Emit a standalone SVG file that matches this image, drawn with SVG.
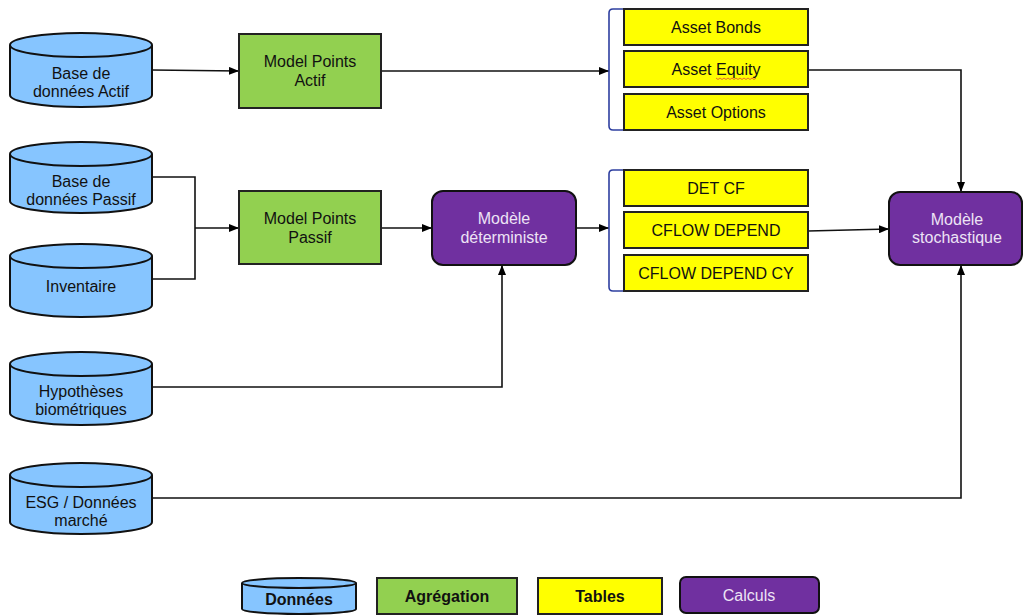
<svg xmlns="http://www.w3.org/2000/svg" width="1023" height="616" viewBox="0 0 1023 616">
<defs>
<marker id="ah" markerWidth="10" markerHeight="8" refX="10" refY="4" orient="auto" markerUnits="userSpaceOnUse">
<path d="M0,0 L10,4 L0,8 Z" fill="#000"/>
</marker>
<style>
.db{fill:#86C5FF;stroke:#111;stroke-width:2}
.agg{fill:#92D050;stroke:#222;stroke-width:2}
.tab{fill:#FFFF00;stroke:#222;stroke-width:2}
.calc{fill:#7030A0;stroke:#111;stroke-width:2}
.t{font-family:"Liberation Sans",Arial,sans-serif;font-size:16px;fill:#111;text-anchor:middle}
.tw{font-family:"Liberation Sans",Arial,sans-serif;font-size:16px;fill:#EDE3F5;text-anchor:middle}
.tb{font-family:"Liberation Sans",Arial,sans-serif;font-size:16px;font-weight:bold;fill:#111;text-anchor:middle}
.c{fill:none;stroke:#111;stroke-width:1.6}
.br{fill:none;stroke:#2E3FA0;stroke-width:1.6}
</style>
</defs>
<rect width="1023" height="616" fill="#fff"/>

<g id="connectors">
<line class="c" x1="152" y1="70" x2="239" y2="71" marker-end="url(#ah)"/>
<line class="c" x1="381" y1="71" x2="609" y2="71" marker-end="url(#ah)"/>
<polyline class="c" points="152,177 195,177 195,279 152,279"/>
<line class="c" x1="195" y1="228" x2="239" y2="228" marker-end="url(#ah)"/>
<line class="c" x1="381" y1="228" x2="432" y2="228" marker-end="url(#ah)"/>
<line class="c" x1="576" y1="228" x2="609" y2="228" marker-end="url(#ah)"/>
<polyline class="c" points="152,387 502,387 502,265" marker-end="url(#ah)"/>
<polyline class="c" points="808,70 961,70 961,192" marker-end="url(#ah)"/>
<line class="c" x1="808" y1="231" x2="889" y2="229" marker-end="url(#ah)"/>
<polyline class="c" points="152,498 961,498 961,265" marker-end="url(#ah)"/>
<path class="br" d="M624,9 L613,9 Q609,9 609,13 L609,126 Q609,130 613,130 L624,130"/>
<path class="br" d="M624,170 L613,170 Q609,170 609,174 L609,287 Q609,291 613,291 L624,291"/>
</g>

<g id="db-actif">
<path class="db" d="M10,45 A71,12 0 0,1 152,45 L152,95 A71,12 0 0,1 10,95 Z"/>
<path class="db" d="M10,45 A71,12 0 0,0 152,45"/>
<text class="t" x="81" y="79">Base de</text>
<text class="t" x="81" y="97">données Actif</text>
</g>
<g id="db-passif">
<path class="db" d="M10,154 A71,12 0 0,1 152,154 L152,201 A71,12 0 0,1 10,201 Z"/>
<path class="db" d="M10,154 A71,12 0 0,0 152,154"/>
<text class="t" x="81" y="187">Base de</text>
<text class="t" x="81" y="205">données Passif</text>
</g>
<g id="db-inventaire">
<path class="db" d="M10,256 A71,12 0 0,1 152,256 L152,305 A71,12 0 0,1 10,305 Z"/>
<path class="db" d="M10,256 A71,12 0 0,0 152,256"/>
<text class="t" x="81" y="292">Inventaire</text>
</g>
<g id="db-hypotheses">
<path class="db" d="M10,364 A71,12 0 0,1 152,364 L152,413 A71,12 0 0,1 10,413 Z"/>
<path class="db" d="M10,364 A71,12 0 0,0 152,364"/>
<text class="t" x="81" y="397">Hypothèses</text>
<text class="t" x="81" y="415">biométriques</text>
</g>
<g id="db-esg">
<path class="db" d="M10,475 A71,12 0 0,1 152,475 L152,522 A71,12 0 0,1 10,522 Z"/>
<path class="db" d="M10,475 A71,12 0 0,0 152,475"/>
<text class="t" x="81" y="508">ESG / Données</text>
<text class="t" x="81" y="526">marché</text>
</g>

<g id="mp-actif">
<rect class="agg" x="239" y="34" width="142" height="74"/>
<text class="t" x="310" y="67">Model Points</text>
<text class="t" x="310" y="86">Actif</text>
</g>
<g id="mp-passif">
<rect class="agg" x="239" y="191" width="142" height="73"/>
<text class="t" x="310" y="224">Model Points</text>
<text class="t" x="310" y="243">Passif</text>
</g>

<g id="modele-det">
<rect class="calc" x="432" y="191" width="144" height="74" rx="11"/>
<text class="tw" x="504" y="224">Modèle</text>
<text class="tw" x="504" y="243">déterministe</text>
</g>
<g id="modele-stoch">
<rect class="calc" x="889" y="192" width="133" height="73" rx="11"/>
<text class="tw" x="957" y="225">Modèle</text>
<text class="tw" x="957" y="243">stochastique</text>
</g>

<g id="asset-bonds">
<rect class="tab" x="624" y="9" width="184" height="36"/>
<text class="t" x="716" y="32.5">Asset Bonds</text>
</g>
<g id="asset-equity">
<rect class="tab" x="624" y="51" width="184" height="36"/>
<text class="t" x="716" y="75">Asset Equity</text>
<path d="M716,78 l2,1.5 l2,-1.5 l2,1.5 l2,-1.5 l2,1.5 l2,-1.5 l2,1.5 l2,-1.5 l2,1.5 l2,-1.5 l2,1.5 l2,-1.5 l2,1.5 l2,-1.5 l2,1.5 l2,-1.5 l2,1.5 l2,-1.5 l2,1.5 l2,-1.5" fill="none" stroke="#E04040" stroke-width="0.8"/>
</g>
<g id="asset-options">
<rect class="tab" x="624" y="94" width="184" height="36"/>
<text class="t" x="716" y="117.5">Asset Options</text>
</g>
<g id="det-cf">
<rect class="tab" x="624" y="170" width="184" height="36"/>
<text class="t" x="716" y="193.5">DET CF</text>
</g>
<g id="cflow-depend">
<rect class="tab" x="624" y="212" width="184" height="36"/>
<text class="t" x="716" y="236">CFLOW DEPEND</text>
</g>
<g id="cflow-depend-cy">
<rect class="tab" x="624" y="255" width="184" height="36"/>
<text class="t" x="716" y="279">CFLOW DEPEND CY</text>
</g>

<g id="legend-donnees">
<path class="db" d="M242,583 A57,5 0 0,1 356,583 L356,609 A57,5 0 0,1 242,609 Z"/>
<path class="db" d="M242,583 A57,5 0 0,0 356,583"/>
<text class="tb" x="299" y="605">Données</text>
</g>
<g id="legend-agregation">
<rect class="agg" x="377" y="578" width="140" height="36"/>
<text class="tb" x="447" y="602">Agrégation</text>
</g>
<g id="legend-tables">
<rect class="tab" x="538" y="578" width="124" height="36"/>
<text class="tb" x="600" y="602">Tables</text>
</g>
<g id="legend-calculs">
<rect class="calc" x="680" y="577" width="139" height="36" rx="6"/>
<text class="tw" x="749" y="601">Calculs</text>
</g>
</svg>
